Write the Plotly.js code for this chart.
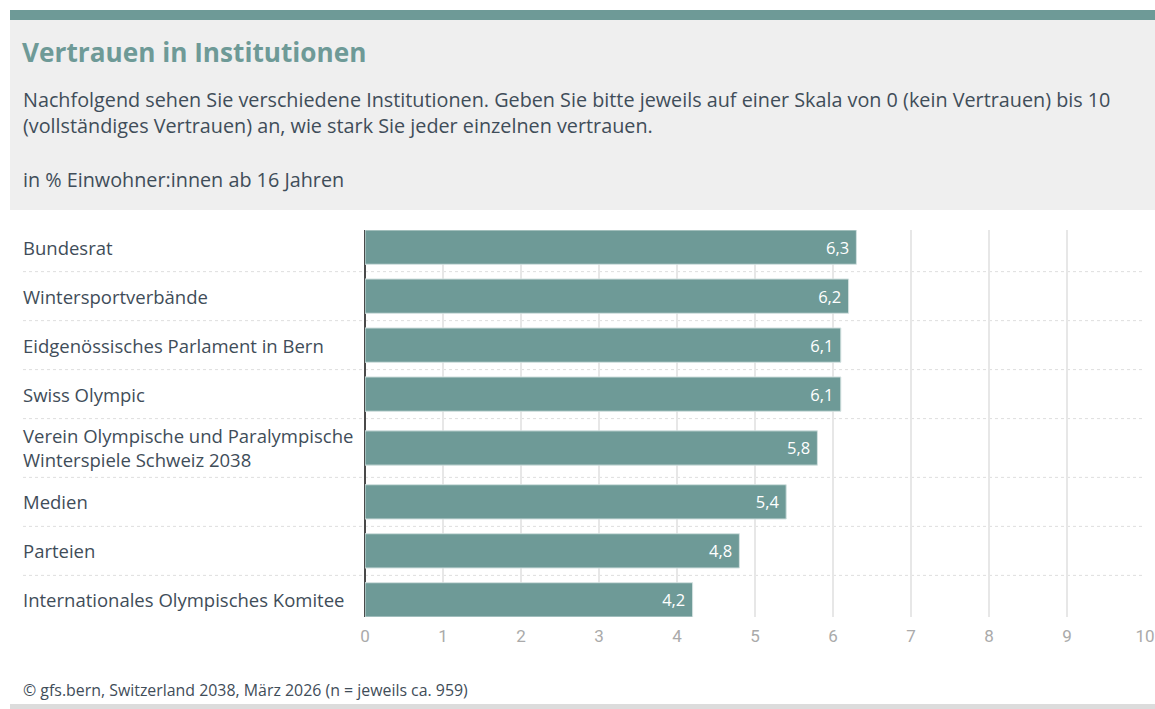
<!DOCTYPE html>
<html>
<head>
<meta charset="utf-8">
<script src="https://cdn.plot.ly/plotly-3.0.1.min.js"></script>
<style>
  html, body { margin: 0; padding: 0; background: #ffffff; }
  #chart { width: 1155px; height: 709px; }
</style>
</head>
<body>
<div id="chart"></div>
<script>
// ---- Data ----
const categories = [
  'Bundesrat',
  'Wintersportverbände',
  'Eidgenössisches Parlament in Bern',
  'Swiss Olympic',
  'Verein Olympische und Paralympische<br>Winterspiele Schweiz 2038',
  'Medien',
  'Parteien',
  'Internationales Olympisches Komitee'
];
const values = [6.3, 6.2, 6.1, 6.1, 5.8, 5.4, 4.8, 4.2];
const xTickVals = [0, 1, 2, 3, 4, 5, 6, 7, 8, 9, 10];
const xTickText = ['0', '1', '2', '3', '4', '5', '6', '7', '8', '9', '10'];

const titleText = 'Vertrauen in Institutionen';
const subtitleText = 'Nachfolgend sehen Sie verschiedene Institutionen. Geben Sie bitte jeweils auf einer Skala von 0 (kein Vertrauen) bis 10<br>(vollständiges Vertrauen) an, wie stark Sie jeder einzelnen vertrauen.';
const unitText = 'in % Einwohner:innen ab 16 Jahren';
const sourceText = '© gfs.bern, Switzerland 2038, März 2026 (n = jeweils ca. 959)';

// ---- Layout helpers ----
const W = 1155, H = 709;
const M = { l: 365, r: 10, t: 230, b: 92 };
const PW = W - M.l - M.r, PH = H - M.t - M.b;
const px2x = px => (px - M.l) / PW;
const py2y = py => (H - M.b - py) / PH;

// row positions: rows with two-line labels are a little taller
const halfH = categories.map(c => 0.5 * (1 + 0.2 * (c.split('<br>').length - 1)));
const centers = [];
categories.forEach((c, i) => {
  centers.push(i === 0 ? 0 : centers[i - 1] + halfH[i - 1] + halfH[i]);
});
const barW = 0.7;
const yRange = [centers[centers.length - 1] + barW / 2, centers[0] - barW / 2];

const teal = '#6e9a97';
const textDark = '#3f4d59';
const FONT = '"Open Sans", "Noto Sans", sans-serif';

const trace = {
  type: 'bar',
  orientation: 'h',
  x: values,
  y: centers,
  width: barW,
  marker: { color: teal, line: { color: '#d3e1e0', width: 1 } },
  texttemplate: '%{x:.1f}\u00a0',
  textposition: 'inside',
  insidetextanchor: 'end',
  textfont: { color: '#ffffff', size: 16.5, family: FONT },
  hoverinfo: 'skip'
};

const shapes = [
  // header band
  { type: 'rect', xref: 'paper', yref: 'paper', x0: px2x(10), x1: px2x(1155), y0: py2y(210), y1: py2y(10),
    fillcolor: '#efefef', line: { width: 0 }, layer: 'below' },
  { type: 'rect', xref: 'paper', yref: 'paper', x0: px2x(10), x1: px2x(1155), y0: py2y(20), y1: py2y(10),
    fillcolor: teal, line: { width: 0 }, layer: 'below' },
  // bottom rule
  { type: 'rect', xref: 'paper', yref: 'paper', x0: px2x(10), x1: px2x(1155), y0: py2y(709), y1: py2y(704),
    fillcolor: '#dcdcdc', line: { width: 0 }, layer: 'below' }
];
// dotted row separators
for (let i = 0; i < centers.length - 1; i++) {
  const yb = centers[i] + halfH[i];
  shapes.push({ type: 'line', xref: 'paper', yref: 'y', x0: px2x(23), x1: 1, y0: yb, y1: yb,
    line: { color: '#dedede', width: 1, dash: 'dot' }, layer: 'below' });
}

const annotations = [
  { xref: 'paper', yref: 'paper', x: px2x(21), y: py2y(113), xanchor: 'left', yanchor: 'middle', align: 'left',
    text: subtitleText, showarrow: false, font: { family: FONT, size: 19.8, color: textDark } },
  { xref: 'paper', yref: 'paper', x: px2x(21), y: py2y(179), xanchor: 'left', yanchor: 'middle', align: 'left',
    text: unitText, showarrow: false, font: { family: FONT, size: 19.8, color: textDark } },
  { xref: 'paper', yref: 'paper', x: px2x(21), y: py2y(690), xanchor: 'left', yanchor: 'middle', align: 'left',
    text: sourceText, showarrow: false, font: { family: FONT, size: 15.9, color: textDark } }
];
categories.forEach((c, i) => {
  annotations.push({ xref: 'paper', yref: 'y', x: px2x(21), y: centers[i], xanchor: 'left', yanchor: 'middle',
    align: 'left', text: c, showarrow: false, font: { family: FONT, size: 18.5, color: textDark } });
});

const layout = {
  width: W, height: H,
  margin: M,
  paper_bgcolor: '#ffffff',
  plot_bgcolor: 'rgba(0,0,0,0)',
  separators: ',.',
  showlegend: false,
  title: {
    text: '<b>' + titleText + '</b>',
    xref: 'container', yref: 'container',
    x: 22 / W, xanchor: 'left',
    y: 1 - 53 / H, yanchor: 'middle',
    font: { family: FONT, size: 26.2, color: teal }
  },
  xaxis: {
    range: [0, 10],
    tickvals: xTickVals, ticktext: xTickText,
    showgrid: true, gridcolor: '#e7e7e7', gridwidth: 1.5,
    zeroline: true, zerolinecolor: '#4a4a4a', zerolinewidth: 1.2,
    showline: false, ticks: '',
    tickfont: { family: 'Roboto, sans-serif', size: 17, color: '#aaaaaa' },
    ticklabelstandoff: 7,
    fixedrange: true
  },
  yaxis: {
    range: yRange,
    showticklabels: false, showgrid: false, zeroline: false, showline: false, ticks: '',
    fixedrange: true
  },
  shapes: shapes,
  annotations: annotations,
  bargap: 0
};

Plotly.newPlot('chart', [trace], layout, { displayModeBar: false, staticPlot: true });
</script>
</body>
</html>
